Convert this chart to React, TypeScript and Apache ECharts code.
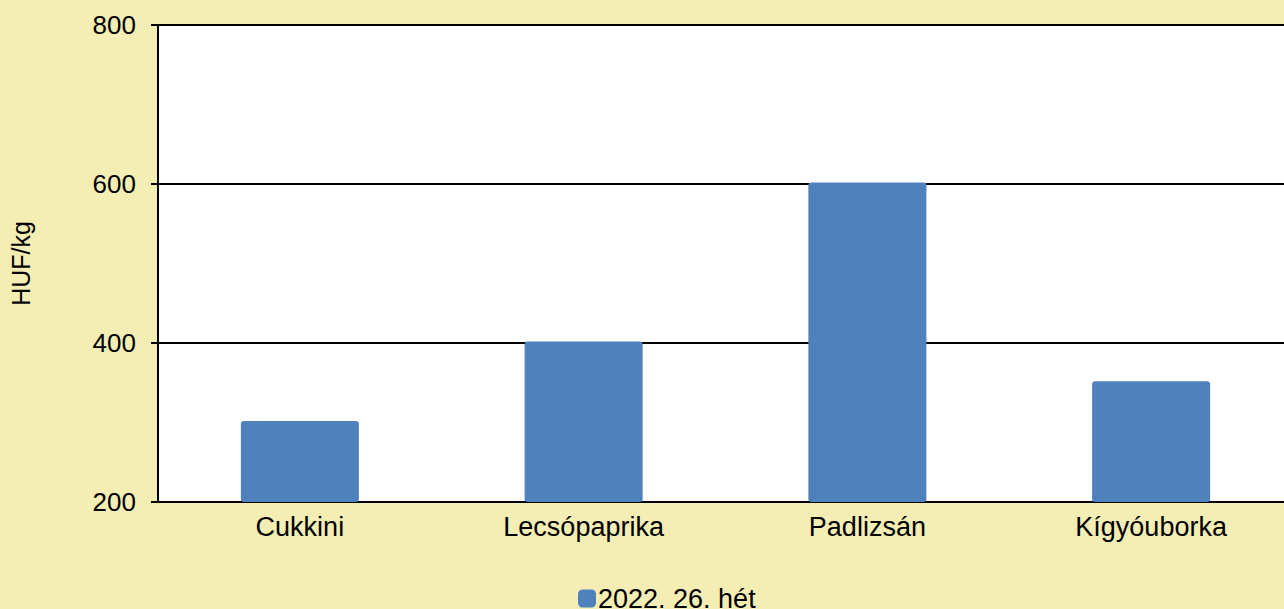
import React, { useEffect, useRef } from "react";
import * as echarts from "echarts";

const categories = ["Cukkini", "Lecsópaprika", "Padlizsán", "Kígyóuborka"];
const seriesName = "2022. 26. hét";
const values = [302, 402, 602, 352];
const yAxisName = "HUF/kg";

export default function App() {
  const ref = useRef<HTMLDivElement>(null);
  useEffect(() => {
    if (!ref.current) return;
    const chart = echarts.init(ref.current, null, { renderer: "svg" });
    chart.setOption({
      animation: false,
      backgroundColor: "#F4EEB4",
      textStyle: { fontFamily: "'Liberation Sans', Arial, sans-serif", color: "#000" },
      grid: {
        left: 158,
        top: 25,
        width: 1135,
        height: 477,
        containLabel: false,
        outerBoundsMode: "none",
        show: true,
        backgroundColor: "#fff",
        borderWidth: 0,
      },
      legend: {
        left: 573,
        top: 580,
        itemWidth: 18,
        itemHeight: 18,
        itemGap: 10,
        textStyle: { fontSize: 27, color: "#000", padding: [0, 0, 0, -3] },
        icon: "roundRect",
        data: [seriesName],
      },
      xAxis: {
        type: "category",
        data: categories,
        axisLine: { show: true, lineStyle: { color: "#000", width: 2 } },
        axisTick: { show: false },
        axisLabel: { fontSize: 27, color: "#000", margin: 11 },
      },
      yAxis: {
        type: "value",
        min: 200,
        max: 800,
        interval: 200,
        name: yAxisName,
        nameLocation: "middle",
        nameRotate: 90,
        nameGap: 125,
        nameTextStyle: { fontSize: 25, color: "#000" },
        axisLine: { show: true, lineStyle: { color: "#000", width: 2 } },
        axisTick: { show: true, length: 7, lineStyle: { color: "#000", width: 2 } },
        axisLabel: { fontSize: 26, color: "#000", margin: 22 },
        splitLine: { show: true, lineStyle: { color: "#000", width: 2 } },
      },
      series: [
        {
          name: seriesName,
          type: "bar",
          data: values,
          barWidth: "41.6%",
          itemStyle: { color: "#4F81BD", borderRadius: 3 },
        },
      ],
    });
    return () => chart.dispose();
  }, []);
  return <div ref={ref} style={{ width: 1284, height: 609, position: "absolute", left: 0, top: 0 }} />;
}
